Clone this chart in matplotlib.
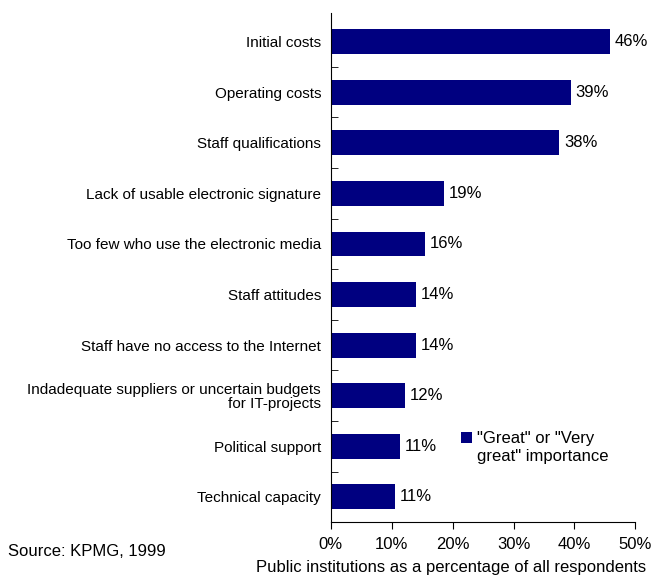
import matplotlib

matplotlib.use("Agg")
import matplotlib.pyplot as plt
import numpy as np
from matplotlib.container import BarContainer
from matplotlib.legend_handler import HandlerPatch, update_from_first_child
from matplotlib.patches import Rectangle
from matplotlib.ticker import FixedLocator, PercentFormatter

plt.rcParams["font.family"] = ["Liberation Sans", "DejaVu Sans"]

# barriers to e-government, share of respondents rating them important
categories = [
    "Initial costs",
    "Operating costs",
    "Staff qualifications",
    "Lack of usable electronic signature",
    "Too few who use the electronic media",
    "Staff attitudes",
    "Staff have no access to the Internet",
    "Indadequate suppliers or uncertain budgets\nfor IT-projects",
    "Political support",
    "Technical capacity",
]
shares = [45.8, 39.4, 37.5, 18.6, 15.5, 14.0, 14.0, 12.2, 11.3, 10.6]
xticks = [0, 10, 20, 30, 40, 50]
series_label = '"Great" or "Very\ngreat" importance'


def top_aligned_square(legend, orig_handle, xdescent, ydescent, width, height, fontsize):
    # lift the key square so it lines up with the first line of the label
    return Rectangle((-xdescent, -ydescent + 0.62 * fontsize), width, height)


fig = plt.figure(figsize=(6.55, 5.77), dpi=100)
ax = fig.add_axes([0.505, 0.095, 0.465, 0.882])

y = np.arange(len(categories))
ax.barh(y, shares, height=0.49, color="#000080", label=series_label)
for yi, v in zip(y, shares):
    ax.text(v + 0.8, yi, f"{v:.0f}%", va="center", ha="left", fontsize=12)

ax.set_xlim(0, 50)
ax.set_ylim(len(categories) - 0.5, -0.56)
ax.set_xticks(xticks)
ax.xaxis.set_major_formatter(PercentFormatter(decimals=0))
ax.tick_params(axis="x", direction="out", length=5, labelsize=12, pad=6)

ax.set_yticks(y)
ax.set_yticklabels(categories, fontsize=11, linespacing=1.0)
ax.tick_params(axis="y", which="major", length=0, pad=7)
ax.yaxis.set_minor_locator(FixedLocator(np.arange(0.5, len(categories) - 1, 1.0)))
ax.tick_params(axis="y", which="minor", direction="in", length=5)

for side in ("top", "right"):
    ax.spines[side].set_visible(False)

fig.text(0.689, 0.016, "Public institutions as a percentage of all respondents",
         fontsize=12, ha="center", va="center")
fig.text(0.012, 0.045, "Source: KPMG, 1999", fontsize=12, va="center")

square = HandlerPatch(patch_func=top_aligned_square,
                      update_func=update_from_first_child)
leg = ax.legend(loc="center left", bbox_to_anchor=(0.405, 0.147), frameon=False,
                fontsize=12, handlelength=0.65, handleheight=0.65,
                handletextpad=0.3, borderaxespad=0,
                handler_map={BarContainer: square})
for t in leg.get_texts():
    t.set_linespacing(1.3)

fig.savefig("out.png", dpi=100)
